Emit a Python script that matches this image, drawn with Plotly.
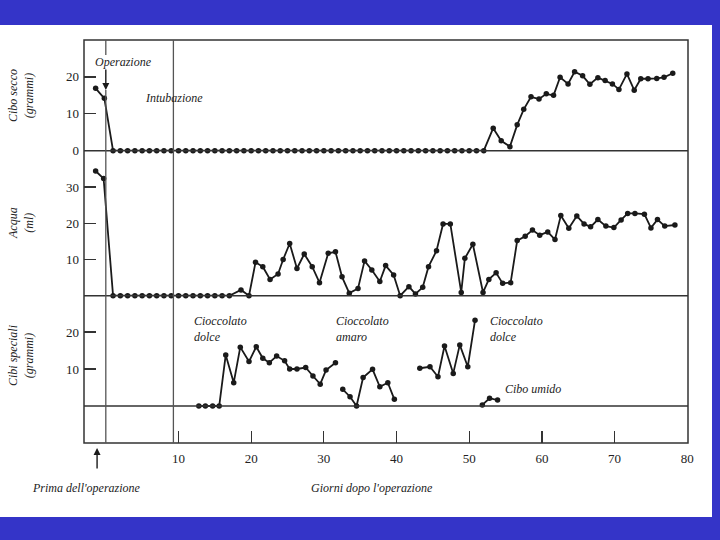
import plotly.graph_objects as go

# ---------------- data ----------------
# Cibo secco (grammi)
secco_days = [-1.4, -0.2] + list(range(1, 53)) + [
    53.3, 54.4, 55.6, 56.6, 57.5, 58.5, 59.6, 60.6, 61.6, 62.5, 63.6, 64.5, 65.6,
    66.6, 67.7, 68.7, 69.7, 70.6, 71.7, 72.7, 73.6, 74.6, 75.8, 76.8, 78.0]
secco_vals = [16.9, 14.2] + [0] * 52 + [
    6.1, 2.7, 1.1, 7.0, 11.2, 14.6, 14.0, 15.4, 15.0, 19.9, 18.1, 21.4, 20.3,
    18.0, 19.8, 19.0, 18.1, 16.6, 20.8, 16.4, 19.5, 19.5, 19.6, 19.9, 21.0]

# Acqua (ml)
acqua_days = [-1.4, -0.3] + list(range(1, 18)) + [
    18.6, 19.7, 20.6, 21.6, 22.6, 23.7, 24.4, 25.3, 26.3, 27.3, 28.4, 29.4, 30.6,
    31.6, 32.5, 33.5, 34.7, 35.6, 36.6, 37.7, 38.5, 39.6, 40.5, 41.7, 42.6, 43.6,
    44.4, 45.5, 46.4, 47.4, 48.9, 49.4, 50.5, 51.9, 52.7, 53.7, 54.6, 55.7, 56.6,
    57.7, 58.7, 59.7, 60.8, 61.8, 62.6, 63.7, 64.8, 65.8, 66.7, 67.7, 68.8, 69.9,
    70.9, 71.8, 72.8, 74.1, 75.0, 75.9, 76.9, 78.3]
acqua_vals = [34.4, 32.3] + [0] * 17 + [
    1.6, 0, 9.2, 8.0, 4.5, 6.0, 10.0, 14.4, 7.5, 11.5, 8.0, 3.6, 11.7,
    12.1, 5.2, 0.7, 2.0, 9.6, 7.1, 3.9, 8.3, 5.7, 0, 2.5, 0.5, 2.3,
    8.0, 12.4, 19.8, 19.8, 0.9, 10.3, 14.2, 0.9, 4.5, 6.3, 3.4, 3.6, 15.2,
    16.4, 18.1, 16.7, 17.6, 15.5, 22.1, 18.6, 22.0, 19.8, 19.0, 21.0, 19.2, 18.8,
    20.9, 22.7, 22.7, 22.5, 18.7, 21.0, 19.2, 19.5]

# Cibi speciali (grammi): four separate segments
dolce1_days = [12.8, 13.7, 14.7, 15.6, 16.5, 17.6, 18.5, 19.7, 20.7, 21.6, 22.5,
               23.5, 24.6, 25.3, 26.3, 27.5, 28.5, 29.5, 30.3, 31.6]
dolce1_vals = [0, 0, 0, 0, 13.8, 6.3, 15.9, 12.0, 16.0, 12.9, 11.7,
               13.5, 12.2, 10.0, 10.0, 10.4, 8.1, 5.9, 9.7, 11.7]
amaro_days = [32.6, 33.6, 34.5, 35.4, 36.7, 37.7, 38.8, 39.7]
amaro_vals = [4.5, 2.5, 0, 7.7, 9.9, 5.2, 6.3, 1.8]
dolce2_days = [43.2, 44.6, 45.7, 46.6, 47.8, 48.7, 49.8, 50.8]
dolce2_vals = [10.2, 10.6, 7.9, 16.2, 8.8, 16.5, 10.6, 23.2]
umido_days = [51.8, 52.8, 53.9]
umido_vals = [0.3, 2.1, 1.6]

x_ticks = [10, 20, 30, 40, 50, 60, 70, 80]
secco_ticks = [0, 10, 20]
acqua_ticks = [10, 20, 30]
speciali_ticks = [10, 20]

OPERATION_DAY = 0
INTUBATION_DAY = 9.3
PRE_OP_DAY = -1.2

# ---------------- layout helpers ----------------
L, R, T, B = 84, 688, 40, 443
W, H = R - L, B - T


def px_x(x):
    return (x - L) / W


def px_y(y):
    return (B - y) / H


d_top = px_y(150.7)
d_mid = px_y(295.7)

SERIF = "Liberation Serif"
INK = "#1a1a1a"
FRAME = "#333333"
BLUE = "#3434C8"

fig = go.Figure()

line_style = dict(color=INK, width=1.8)
marker_style = dict(color=INK, size=5.5, symbol="circle")


def add_series(days, vals, xa, ya):
    fig.add_trace(go.Scatter(x=days, y=vals, mode="lines+markers", line=line_style,
                             marker=marker_style, xaxis=xa, yaxis=ya,
                             showlegend=False, hoverinfo="x+y", cliponaxis=False))


add_series(secco_days, secco_vals, "x", "y")
add_series(acqua_days, acqua_vals, "x2", "y2")
for d, v in [(dolce1_days, dolce1_vals), (amaro_days, amaro_vals),
             (dolce2_days, dolce2_vals), (umido_days, umido_vals)]:
    add_series(d, v, "x3", "y3")

xr = [-3.0, 80.1]
tickfont = dict(family=SERIF, size=13, color="#222")
common_x = dict(range=xr, showgrid=False, zeroline=False, showline=False, fixedrange=True,
                automargin=False)
common_y = dict(showgrid=False, zeroline=False, showline=False, ticks="inside", ticklen=12,
                tickwidth=1.2, tickcolor=FRAME, tickfont=tickfont, ticklabelstandoff=4,
                automargin=False)

fig.update_layout(
    template="none",
    width=720, height=540,
    margin=dict(l=L, r=720 - R, t=T, b=540 - B, pad=0, autoexpand=False),
    paper_bgcolor="white", plot_bgcolor="white",
    xaxis=dict(common_x, domain=[0, 1], anchor="y", showticklabels=False, ticks=""),
    xaxis2=dict(common_x, domain=[0, 1], anchor="y2", matches="x", showticklabels=False, ticks=""),
    xaxis3=dict(common_x, domain=[0, 1], anchor="y3", matches="x", tickvals=x_ticks,
                ticks="inside", ticklen=12, tickwidth=1.2, tickcolor=FRAME,
                tickfont=tickfont, ticklabelstandoff=6),
    yaxis=dict(common_y, domain=[d_top, 1], range=[0, 30.0], tickvals=secco_ticks),
    yaxis2=dict(common_y, domain=[d_mid, d_top], range=[0, 40], tickvals=acqua_ticks),
    yaxis3=dict(common_y, domain=[0, d_mid], range=[-10, 29.8], tickvals=speciali_ticks),
)

shapes = []
# frame and panel separators
shapes.append(dict(type="rect", xref="paper", yref="paper", x0=0, x1=1, y0=0, y1=1,
                   line=dict(color=FRAME, width=1.5)))
for yy in (d_top, d_mid):
    shapes.append(dict(type="line", xref="paper", yref="paper", x0=0, x1=1, y0=yy, y1=yy,
                       line=dict(color=FRAME, width=1.5)))
shapes.append(dict(type="line", xref="paper", yref="y3", x0=0, x1=1, y0=0, y1=0,
                   line=dict(color=FRAME, width=1.4)))
# intubation line
shapes.append(dict(type="line", xref="x", yref="paper", x0=INTUBATION_DAY, x1=INTUBATION_DAY,
                   y0=0, y1=1, line=dict(color="#555", width=1.3)))
# operation line
shapes.append(dict(type="line", xref="x", yref="paper", x0=OPERATION_DAY, x1=OPERATION_DAY,
                   y0=0, y1=px_y(90), line=dict(color="#555", width=1.3)))
shapes.append(dict(type="line", xref="x", yref="paper", x0=OPERATION_DAY, x1=OPERATION_DAY,
                   y0=px_y(55), y1=1, line=dict(color="#555", width=1.3)))
# blue slide border
shapes.append(dict(type="rect", xref="paper", yref="paper", x0=px_x(-5), x1=px_x(725),
                   y0=px_y(25), y1=px_y(-5), fillcolor=BLUE, line=dict(width=0), layer="below"))
shapes.append(dict(type="rect", xref="paper", yref="paper", x0=px_x(-5), x1=px_x(725),
                   y0=px_y(545), y1=px_y(517), fillcolor=BLUE, line=dict(width=0), layer="below"))
shapes.append(dict(type="rect", xref="paper", yref="paper", x0=px_x(712), x1=px_x(725),
                   y0=px_y(545), y1=px_y(-5), fillcolor=BLUE, line=dict(width=0), layer="below"))
fig.update_layout(shapes=shapes)

anns = []
tf = dict(family=SERIF, size=12, color="#222")


def text(t, x, y, xanchor="center", yanchor="middle", angle=0, align="center"):
    anns.append(dict(text=t, x=px_x(x), y=px_y(y), xref="paper", yref="paper",
                     showarrow=False, xanchor=xanchor, yanchor=yanchor, textangle=angle,
                     align=align, font=tf))


text("<i>Cibo secco<br>(grammi)</i>", 21, 96, angle=-90)
text("<i>Acqua<br>(ml)</i>", 21, 223, angle=-90)
text("<i>Cibi speciali<br>(grammi)</i>", 21, 356, angle=-90)
text("<i>Operazione</i>", 123, 62)
text("<i>Intubazione</i>", 174, 98)
text("<i>Cioccolato<br>dolce</i>", 192, 329, xanchor="left", align="left")
text("<i>Cioccolato<br>amaro</i>", 334, 329, xanchor="left", align="left")
text("<i>Cioccolato<br>dolce</i>", 488, 329, xanchor="left", align="left")
text("<i>Cibo umido</i>", 503, 389, xanchor="left", align="left")
text("<i>Prima dell'operazione</i>", 86, 488)
text("<i>Giorni dopo l'operazione</i>", 372, 488)

# arrows
anns.append(dict(text="", x=OPERATION_DAY, y=px_y(90), xref="x", yref="paper",
                 showarrow=True, ax=0, ay=-22, arrowhead=2, arrowsize=1, arrowwidth=1.4,
                 arrowcolor=INK))
anns.append(dict(text="", x=PRE_OP_DAY, y=px_y(448), xref="x", yref="paper",
                 showarrow=True, ax=0, ay=22, arrowhead=2, arrowsize=1, arrowwidth=1.4,
                 arrowcolor=INK))
fig.update_layout(annotations=anns)

fig.write_html("out.html", config={"displayModeBar": False, "staticPlot": True},
               post_script="document.body.style.margin='0';document.body.style.overflow='hidden';")
